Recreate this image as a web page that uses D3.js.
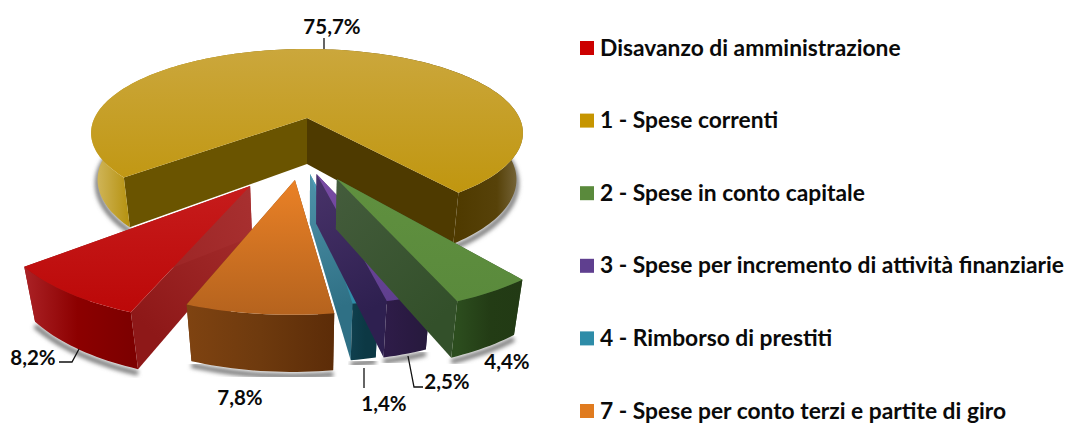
<!DOCTYPE html>
<html>
<head>
<meta charset="utf-8">
<script src="https://cdn.jsdelivr.net/npm/d3@7"></script>
<style>
  html, body { margin: 0; padding: 0; background: #fff; }
  text { font-family: Lato, "Open Sans", sans-serif; font-weight: 700; fill: #0a0a0a; }
</style>
</head>
<body>
<script>
var categories = ["Disavanzo di amministrazione", "1 - Spese correnti", "2 - Spese in conto capitale",
    "3 - Spese per incremento di attività finanziarie", "4 - Rimborso di prestiti",
    "7 - Spese per conto terzi e partite di giro"];
var values = [8.2, 75.7, 4.4, 2.5, 1.4, 7.8];
var labels = ["8,2%", "75,7%", "4,4%", "2,5%", "1,4%", "7,8%"];

// how the slices are pulled out of the pie, in pie radius units
var explodeX = [-0.233, 0, 0.124, 0.04, 0.0126, -0.05];
var explodeY = [-0.728, 0, -0.662, -0.613, -0.613, -0.672];
var radius = [1.01, 1, 1.02, 1.02, 1.02, 1.02];

var swatch = ["#cc0000", "#c69500", "#5a8a3c", "#5f3f8f", "#2e8ca8", "#e07b1f"];
var topFrom = ["#c61c1c", "#cba73c", "#60903f", "#7a4ca6", "#4f9fb8", "#ea8126"];
var topTo = ["#bc0808", "#c0960f", "#5a8a3c", "#5f3f8f", "#2e8ca8", "#b5631e"];
var wallFrom = ["#a83030", "#6a5400", "#445c3c", "#49336a", "#4f93aa", "#8a4a14"];
var wallTo = ["#8e1818", "#4e3a00", "#33502a", "#2e2050", "#2f7085", "#6a3410"];
var rimStops = [
    ["#ab2226", "#8c0000", "#7d0000"],
    ["#d4bb66", "#b5910e", "#4f3a00", "#574209", "#7d6d45"],
    ["#2c4d1e", "#233c15", "#223a14"],
    ["#2e1c48", "#2a1a42", "#261a3c"],
    ["#0f3f4d", "#0c3844", "#0c3844"],
    ["#7f4311", "#6e3a0e", "#5c2c08"]
];
var goldRimOffsets = [0, 0.09, 0.85, 0.94, 1];

var width = 1070, height = 423;
var svg = d3.select("body").append("svg").attr("width", width).attr("height", height)
    .style("display", "block");
var defs = svg.append("defs");

var blur = defs.append("filter").attr("id", "soft")
    .attr("x", "-10%").attr("y", "-10%").attr("width", "120%").attr("height", "120%");
blur.append("feGaussianBlur").attr("stdDeviation", 2);

// camera: pie center on the top plane, tilt and perspective
var cx = 307, cy = 118, S = 212.5, T = 81.3, H = 47.5, p = 0.178, q = 0.03;

function project(X, Y, Z) {
    var w = 1 + p * Y + q * Z;
    return [cx + S * X / w, cy + (-T * Y + H * Z) / w];
}

var pie = d3.pie().sort(null).value(function(d) { return d; })
    .startAngle(200.2 * Math.PI / 180)
    .endAngle((200.2 + 360) * Math.PI / 180);
var arcs = pie(values);
var line = d3.line();

function gradient(id, x1, y1, x2, y2, colors, offsets) {
    var g = defs.append("linearGradient").attr("id", id)
        .attr("gradientUnits", "userSpaceOnUse")
        .attr("x1", x1).attr("y1", y1).attr("x2", x2).attr("y2", y2);
    colors.forEach(function(c, i) {
        g.append("stop").attr("offset", offsets ? offsets[i] : i / (colors.length - 1)).attr("stop-color", c);
    });
    return "url(#" + id + ")";
}

function drawSlice(i) {
    var a = arcs[i], ox = explodeX[i], oy = explodeY[i], r = radius[i];
    var n = Math.ceil((a.endAngle - a.startAngle) * 40);
    var angles = d3.range(n + 1).map(function(k) {
        return a.startAngle + (a.endAngle - a.startAngle) * k / n;
    });
    function rim(z) {
        return angles.map(function(t) {
            return project(ox + r * Math.sin(t), oy + r * Math.cos(t), z);
        });
    }
    var topRim = rim(0), botRim = rim(1);
    var apexTop = project(ox, oy, 0), apexBot = project(ox, oy, 1);
    var g = svg.append("g").attr("class", "slice");

    // soft shadow under the rim
    g.append("path").attr("d", line(botRim))
        .attr("transform", "translate(0,4)")
        .attr("fill", "none").attr("stroke", "#777").attr("stroke-width", 5)
        .attr("filter", "url(#soft)");

    // two cut walls
    [0, n].forEach(function(end, k) {
        var wall = [apexTop, topRim[end], botRim[end], apexBot];
        var fill = gradient("wall" + i + "_" + k, apexTop[0], apexTop[1], topRim[end][0], topRim[end][1],
            [wallFrom[i], wallTo[i]]);
        if (i == 1) fill = k == 0 ? wallFrom[i] : wallTo[i];
        g.append("path").attr("d", line(wall) + "Z").attr("fill", fill);
    });

    // outer wall
    var xs = d3.extent(topRim, function(d) { return d[0]; });
    g.append("path").attr("d", line(topRim.concat(botRim.slice().reverse())) + "Z")
        .attr("fill", gradient("rim" + i, xs[0], 0, xs[1], 0, rimStops[i], i == 1 ? goldRimOffsets : null));

    // top face
    var ys = d3.extent(topRim.concat([apexTop]), function(d) { return d[1]; });
    g.append("path").attr("d", line([apexTop].concat(topRim)) + "Z")
        .attr("fill", gradient("top" + i, 0, ys[0], 0, ys[1], [topFrom[i], topTo[i]]));
}

// back to front
[1, 0, 5, 4, 3, 2].forEach(drawSlice);

// value labels and leaders
var labelX = [33, 332, 507, 447, 384, 240];
var labelY = [357, 26, 361, 381, 403, 397];
labels.forEach(function(t, i) {
    svg.append("text").text(t).attr("x", labelX[i]).attr("y", labelY[i])
        .attr("text-anchor", "middle").attr("dominant-baseline", "central")
        .attr("font-size", 20.5);
});
var leaders = [
    [[59, 362], [72, 362], [79, 349]],
    [[324, 38], [324, 49]],
    [[364, 368], [364, 388]],
    [[408, 356], [414, 387], [423, 387]]
];
leaders.forEach(function(l) {
    svg.append("path").attr("d", line(l)).attr("fill", "none")
        .attr("stroke", "#111").attr("stroke-width", 1.3);
});

// legend
var legendY = d3.scalePoint().domain(categories).range([49, 412]);
var legend = svg.selectAll("g.legend").data(categories).enter().append("g").attr("class", "legend")
    .attr("transform", function(d) { return "translate(0," + legendY(d) + ")"; });
legend.append("rect").attr("x", 580).attr("y", -8).attr("width", 14).attr("height", 14)
    .attr("fill", function(d, i) { return swatch[i]; });
legend.append("text").text(function(d) { return d; }).attr("x", 600).attr("y", 6.5)
    .attr("font-size", 22.8);
</script>
</body>
</html>
